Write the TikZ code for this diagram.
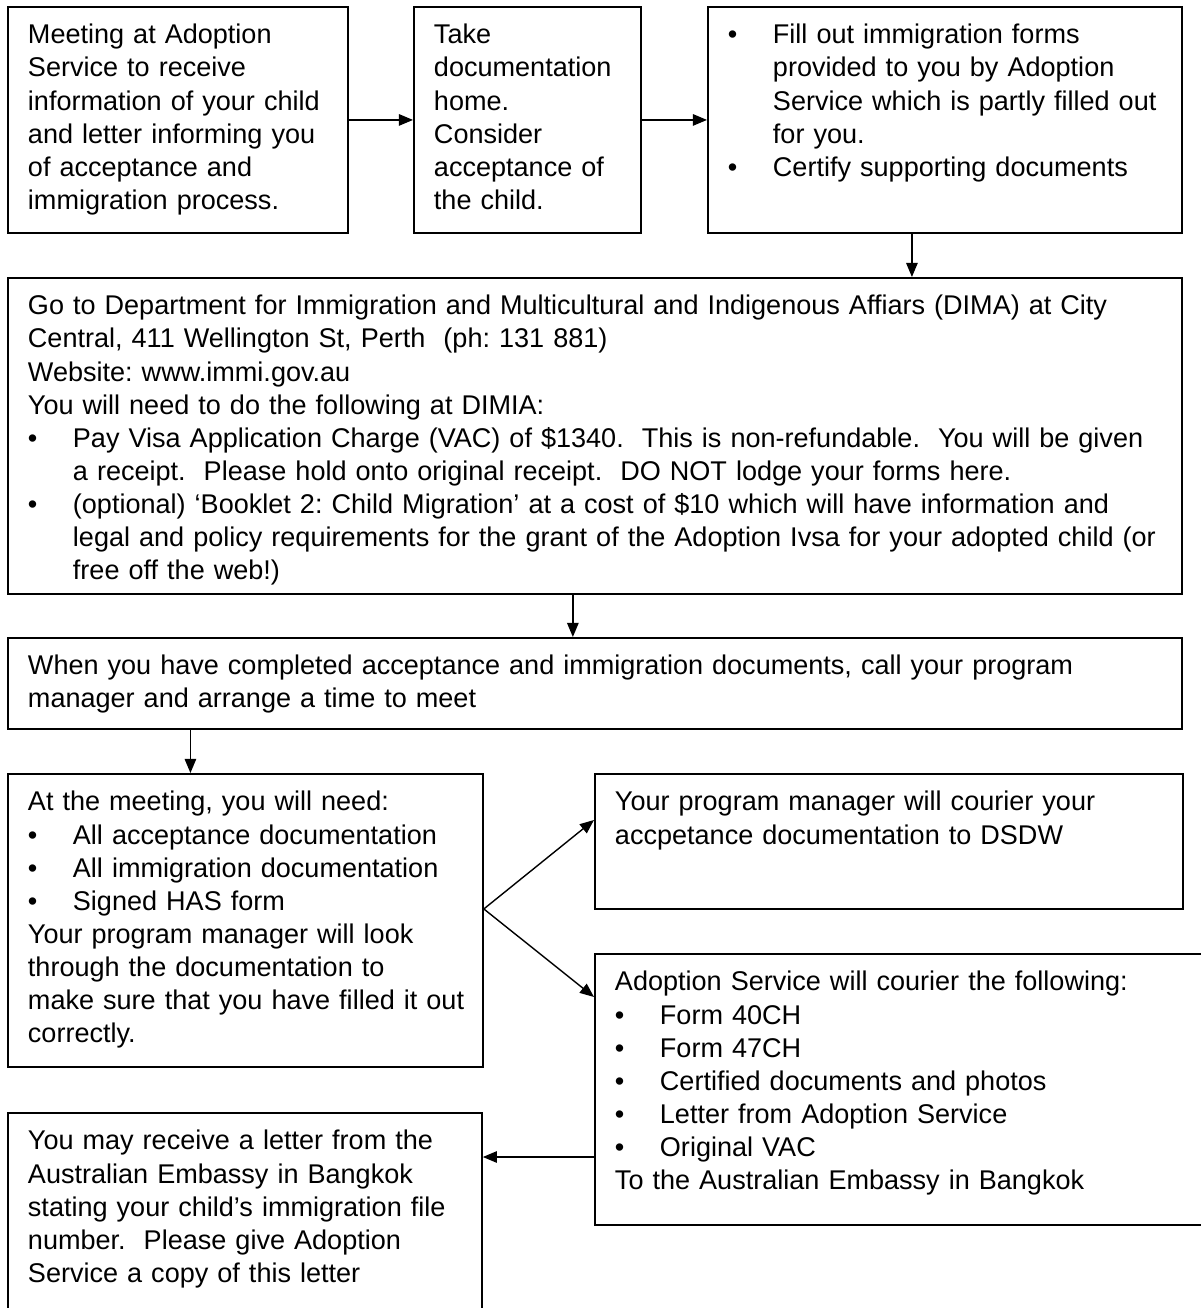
\documentclass[tikz,border=0pt]{standalone}
\usepackage{fontspec}
\setmainfont{Liberation Sans}
\usetikzlibrary{arrows.meta}
\frenchspacing
\newcommand{\bul}{\makebox[0.9cm][l]{\textbullet}}
\newcommand{\ind}{\hspace*{0.9cm}}

\begin{document}
\begin{tikzpicture}[x=0.02cm,y=-0.02cm,
	box/.style={draw,line width=1.1pt,anchor=north west,align=left,inner xsep=0.4cm,inner ysep=0pt,text height=0.74cm,font=\fontsize{15.4}{18.8}\selectfont},
	arr/.style={line width=0.8pt,-{Triangle[length=8pt,width=6.5pt]}}]
	\useasboundingbox (0,0) rectangle (1200,1308);
	\node[box,text width=6.0cm,text depth=3.78cm] (1) at (7,6) {Meeting at Adoption\\Service to receive\\information of your child\\and letter informing you\\of acceptance and\\immigration process.};
	\node[box,text width=3.74cm,text depth=3.78cm] (2) at (413,6) {Take\\documentation\\home.\\Consider\\acceptance of\\the child.};
	\node[box,text width=8.68cm,text depth=3.78cm] (3) at (707,6) {\bul Fill out immigration forms\\\ind provided to you by Adoption\\\ind \mbox{Service which is partly filled out}\\\ind for you.\\\bul Certify supporting documents};
	\node[box,text width=22.68cm,text depth=5.58cm] (4) at (7,277) {Go to Department for Immigration and Multicultural and Indigenous Affiars (DIMA) at City\\Central, 411 Wellington St, Perth\ \ (ph: 131 881)\\Website: www.immi.gov.au\\You will need to do the following at DIMIA:\\\bul Pay Visa Application Charge (VAC) of \$1340.\ \ This is non-refundable.\ \ You will be given\\\ind a receipt.\ \ Please hold onto original receipt.\ \ DO NOT lodge your forms here.\\\bul (optional) ‘Booklet 2: Child Migration’ at a cost of \$10 which will have information and\\\ind legal and policy requirements for the grant of the Adoption Ivsa for your adopted child (or\\\ind free off the web!)};
	\node[box,text width=22.68cm,text depth=1.08cm] (5) at (7,637) {When you have completed acceptance and immigration documents, call your program\\manager and arrange a time to meet};
	\node[box,text width=8.70cm,text depth=5.12cm] (6) at (7,773) {At the meeting, you will need:\\\bul All acceptance documentation\\\bul All immigration documentation\\\bul Signed HAS form\\Your program manager will look\\through the documentation to\\\mbox{make sure that you have filled it out}\\correctly.};
	\node[box,text width=10.96cm,text depth=1.96cm] (7) at (594,773) {Your program manager will courier your\\accpetance documentation to DSDW};
	\node[box,text width=11.80cm,text depth=4.68cm] (8) at (594,953) {Adoption Service will courier the following:\\\bul Form 40CH\\\bul Form 47CH\\\bul Certified documents and photos\\\bul Letter from Adoption Service\\\bul Original VAC\\To the Australian Embassy in Bangkok};
	\node[box,text width=8.68cm,text depth=3.62cm] (9) at (7,1112) {You may receive a letter from the\\Australian Embassy in Bangkok\\stating your child’s immigration file\\number.\ \ Please give Adoption\\Service a copy of this letter};
	\coordinate (a) at ([xshift=-0.66cm]3.south);
	\coordinate (b) at ([xshift=-0.44cm]4.south);
	\coordinate (c) at ([xshift=-1.1cm]6.north);
	\coordinate (f) at ([yshift=0.23cm]6.east);
	\coordinate (g) at ([yshift=-0.94cm]7.north west);
	\coordinate (h) at ([yshift=-0.88cm]8.north west);
	\coordinate (i) at ([yshift=-0.9cm]9.north east);
	\draw[arr] (1) -- (2);
	\draw[arr] (2) -- (3);
	\draw[arr] (a) -- (a |- 4.north);
	\draw[arr] (b) -- (b |- 5.north);
	\draw[arr] (c |- 5.south) -- (c);
	\draw[arr] (f) -- (g);
	\draw[arr] (f) -- (h);
	\draw[arr] (8.west |- i) -- (i);
\end{tikzpicture}
\end{document}
